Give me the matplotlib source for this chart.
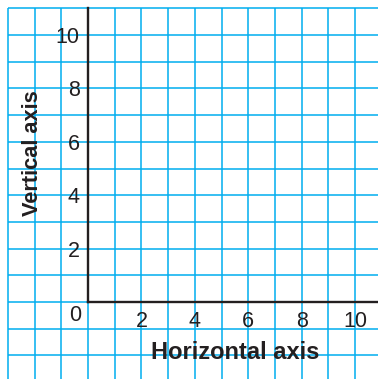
#!/usr/bin/env python3
"""
Blank coordinate grid with labelled horizontal and vertical axes,
drawn on blue graph paper.
"""
import matplotlib
matplotlib.use("Agg")
import matplotlib.pyplot as plt

# grid lines of the graph paper (data units)
grid_x = list(range(-3, 11))
grid_y = list(range(-2, 12))

# axis tick labels
x_ticks = [2, 4, 6, 8, 10]
y_ticks = [2, 4, 6, 8, 10]
x_tick_labels = ["2", "4", "6", "8", "10"]
y_tick_labels = ["2", "4", "6", "8", "10"]

x_title = "Horizontal axis"
y_title = "Vertical axis"

GRID_BLUE = "#00AEEF"
INK = "#231F20"


def draw_chart():
    plt.rcParams['font.family'] = ['Liberation Sans', 'DejaVu Sans']
    fig = plt.figure(figsize=(3.78, 3.79), dpi=100)
    ax = fig.add_axes([0, 0, 1, 1])
    ax.set_xlim(-3.30, 10.86)
    ax.set_ylim(-2.88, 11.31)

    # graph paper
    ax.vlines(grid_x, -3.5, max(grid_y), color=GRID_BLUE, lw=1.1, zorder=1)
    ax.hlines(grid_y, min(grid_x), 11.5, color=GRID_BLUE, lw=1.1, zorder=1)

    # axes drawn through the origin
    for side in ["top", "right"]:
        ax.spines[side].set_visible(False)
    ax.spines["left"].set_position(("data", 0))
    ax.spines["bottom"].set_position(("data", 0))
    ax.spines["left"].set_bounds(0, max(grid_y))
    ax.spines["bottom"].set_bounds(0, 11.5)
    for side in ["left", "bottom"]:
        ax.spines[side].set_color(INK)
        ax.spines[side].set_linewidth(1.7)
        ax.spines[side].set_zorder(3)

    ax.set_xticks(x_ticks)
    ax.set_xticklabels(x_tick_labels)
    ax.set_yticks(y_ticks)
    ax.set_yticklabels(y_tick_labels)
    ax.tick_params(axis="x", length=0, pad=6.5, labelsize=15.5, labelcolor=INK)
    ax.tick_params(axis="y", length=0, pad=6, labelsize=15.5, labelcolor=INK)

    # origin label sits below-left of the corner
    ax.text(-0.5, -0.5, "0", ha="center", va="center", fontsize=15.5, color=INK)

    ax.text(5.52, -1.9, x_title, ha="center", va="center", fontsize=17,
            fontweight="bold", color=INK)
    ax.text(-2.08, 5.56, y_title, ha="center", va="center", rotation=90,
            fontsize=15.7, fontweight="bold", color=INK)

    fig.savefig("out.png", dpi=100, facecolor="white")
# end def: draw_chart


def main():
    draw_chart()
# end def: main


if __name__ == "__main__":
    main()
# end if
